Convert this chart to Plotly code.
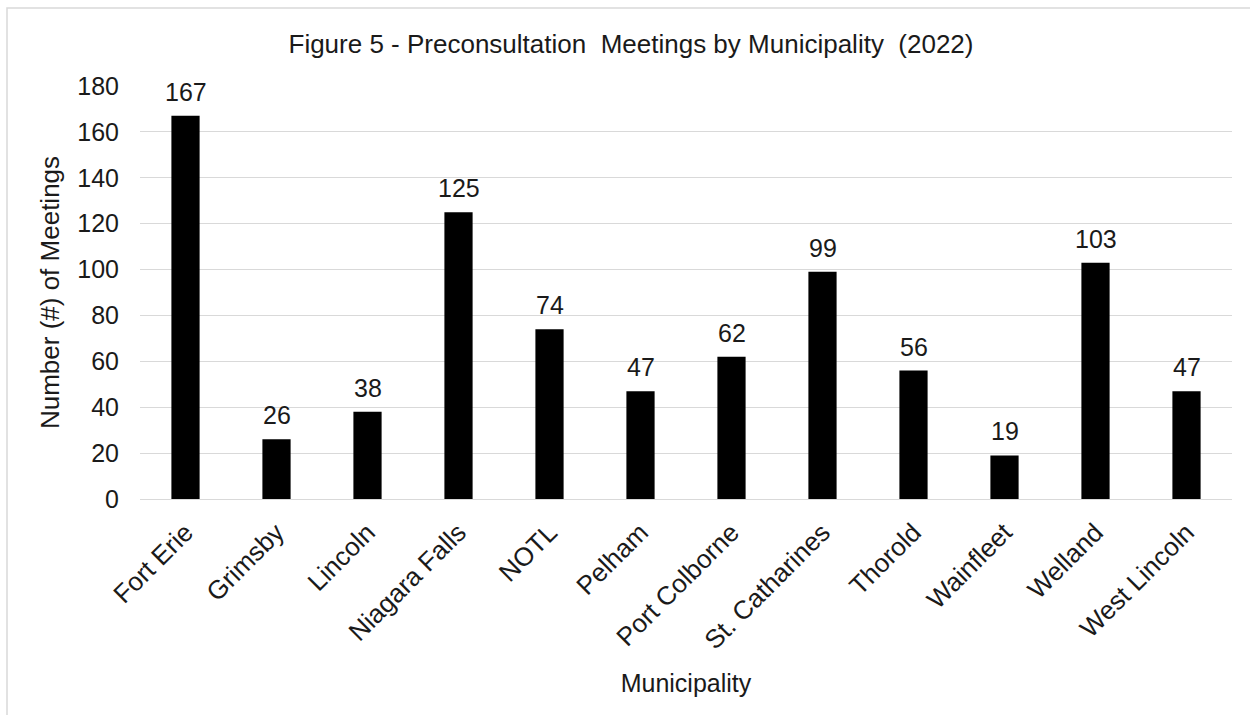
import plotly.graph_objects as go

municipalities = ["Fort Erie", "Grimsby", "Lincoln", "Niagara Falls", "NOTL", "Pelham",
                  "Port Colborne", "St. Catharines", "Thorold", "Wainfleet", "Welland",
                  "West Lincoln"]
meetings = [167, 26, 38, 125, 74, 47, 62, 99, 56, 19, 103, 47]
y_ticks = [0, 20, 40, 60, 80, 100, 120, 140, 160, 180]

W, H = 1250, 715
L, R, T, B = 140, 18, 86, 216
plot_w = W - L - R
plot_h = H - T - B

FONT = "Liberation Sans, Arial, sans-serif"
INK = "#1a1a1a"

fig = go.Figure(go.Bar(
    x=municipalities,
    y=meetings,
    width=0.31,
    marker=dict(color="#000000", line=dict(width=0)),
))

# value labels above each bar
for name, val in zip(municipalities, meetings):
    fig.add_annotation(x=name, y=val, text=str(val), showarrow=False,
                       xanchor="center", yanchor="bottom", yshift=8,
                       font=dict(family=FONT, size=25, color=INK))

# outer chart frame
fig.add_shape(type="rect", xref="paper", yref="paper",
              x0=(7 - L) / plot_w, x1=(W + 20 - L) / plot_w,
              y0=(H - B - (H + 20)) / plot_h, y1=(H - B - 8) / plot_h,
              line=dict(color="#d9d9d9", width=1.5), fillcolor="rgba(0,0,0,0)", layer="below")

fig.update_layout(
    width=W, height=H,
    margin=dict(l=L, r=R, t=T, b=B),
    paper_bgcolor="white",
    plot_bgcolor="white",
    showlegend=False,
    bargap=0.69,
    title=dict(
        text="Figure 5 - Preconsultation  Meetings by Municipality  (2022)",
        x=631 / W, xanchor="center",
        y=1 - 44 / H, yanchor="middle",
        font=dict(family=FONT, size=26, color=INK),
    ),
    xaxis=dict(
        tickangle=-45,
        tickfont=dict(family=FONT, size=26, color=INK),
        showgrid=False,
        showline=False,
        ticks="",
        ticklabelstandoff=12,
        title=dict(text="Municipality", standoff=20,
                   font=dict(family=FONT, size=25, color=INK)),
    ),
    yaxis=dict(
        range=[0, 180],
        tickvals=y_ticks,
        tickfont=dict(family=FONT, size=25, color=INK),
        showgrid=True,
        gridcolor="#d9d9d9",
        gridwidth=1,
        zeroline=True,
        zerolinecolor="#d9d9d9",
        zerolinewidth=1,
        showline=False,
        ticks="",
        ticklabelstandoff=20,
        title=dict(text="Number (#) of Meetings", standoff=10,
                   font=dict(family=FONT, size=26, color=INK)),
    ),
)

fig.write_html("out.html")
